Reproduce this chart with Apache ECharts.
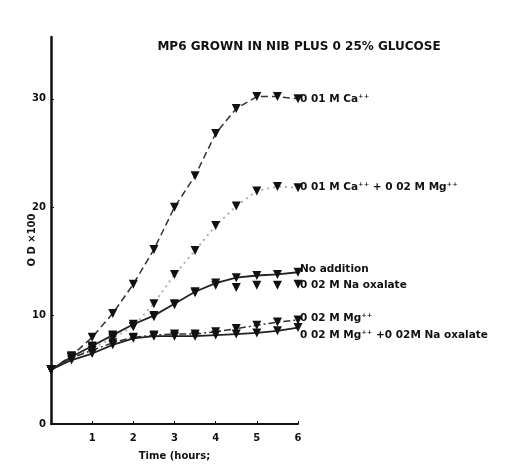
<!DOCTYPE html>
<html>
<head>
<meta charset="utf-8">
<script src="https://cdn.jsdelivr.net/npm/echarts@6/dist/echarts.min.js"></script>
<style>
  html, body { margin: 0; padding: 0; background: #fff; }
  #chart { width: 516px; height: 466px; }
</style>
</head>
<body>
<div id="chart"></div>
<script>
  // time (hours)
  var hours = [0, 0.5, 1, 1.5, 2, 2.5, 3, 3.5, 4, 4.5, 5, 5.5, 6]

  // O.D. x 100
  var ca = [5.0, 6.3, 8.0, 10.2, 12.9, 16.1, 20.0, 22.9, 26.8, 29.1, 30.2, 30.2, 30.0]
  var caMg = [5.0, 6.1, 7.0, 7.9, 9.0, 11.1, 13.8, 16.0, 18.3, 20.1, 21.5, 21.9, 21.8]
  var noAddition = [5.0, 6.2, 7.2, 8.2, 9.2, 10.0, 11.1, 12.2, 13.0, 13.5, 13.7, 13.8, 14.0]
  var oxalate = [5.0, 6.2, 7.1, 8.1, 9.0, 9.9, 11.0, 12.1, 12.8, 12.6, 12.8, 12.8, 12.9]
  var mg = [5.0, 6.1, 6.8, 7.5, 8.0, 8.2, 8.3, 8.3, 8.5, 8.8, 9.1, 9.4, 9.6]
  var mgOxalate = [5.0, 5.9, 6.5, 7.3, 7.9, 8.1, 8.1, 8.1, 8.2, 8.3, 8.4, 8.6, 8.9]

  var xTicks = [1, 2, 3, 4, 5, 6]
  var yTicks = [0, 10, 20, 30]

  var font = 'DejaVu Sans'

  function pairs(vals) {
    return hours.map(function (h, i) { return [h, vals[i]] })
  }

  // 一条曲线
  function curve(name, vals, line, label, offset) {
    return {
      name: name,
      type: 'line',
      data: pairs(vals),
      symbol: 'triangle',
      symbolRotate: 180,
      symbolSize: 9,
      itemStyle: { color: '#111' },
      lineStyle: line,
      silent: true,
      animation: false,
      endLabel: {
        show: true,
        formatter: label,
        color: '#111',
        fontFamily: font,
        fontWeight: 'bold',
        fontSize: 10.5,
        distance: 2,
        offset: offset || [0, 0]
      }
    }
  }

  var chart = echarts.init(document.getElementById('chart'))
  chart.setOption({
    animation: false,
    title: {
      text: 'MP6 GROWN IN NIB PLUS 0 25% GLUCOSE',
      left: 294,
      textAlign: 'center',
      top: 36,
      textStyle: { fontFamily: font, fontWeight: 'bold', fontSize: 12, color: '#111' }
    },
    graphic: [{
      type: 'text',
      x: 32,
      y: 240,
      rotation: Math.PI / 2,
      style: {
        text: 'O D ×100',
        fontFamily: font,
        fontWeight: 'bold',
        fontSize: 10,
        fill: '#111',
        align: 'center',
        verticalAlign: 'middle'
      }
    }],
    grid: { left: 51, right: 218, top: 37, bottom: 39 },
    xAxis: {
      type: 'value',
      min: 0,
      max: 6,
      interval: 1,
      name: 'Time (hours;',
      nameLocation: 'middle',
      nameGap: 27,
      nameTextStyle: { fontFamily: font, fontWeight: 'bold', fontSize: 10, color: '#111' },
      splitLine: { show: false },
      axisLine: { lineStyle: { color: '#111', width: 2 } },
      axisTick: { inside: true, length: 3, customValues: xTicks, lineStyle: { color: '#111' } },
      axisLabel: { customValues: xTicks, margin: 9, fontFamily: font, fontWeight: 'bold', fontSize: 10, color: '#111' }
    },
    yAxis: {
      type: 'value',
      min: 0,
      max: 35.7,
      interval: 10,
      splitLine: { show: false },
      axisLine: { lineStyle: { color: '#111', width: 2.5 } },
      axisTick: { inside: true, length: 3, customValues: yTicks, lineStyle: { color: '#111' } },
      axisLabel: { customValues: yTicks, margin: 5, fontFamily: font, fontWeight: 'bold', fontSize: 10, color: '#111' }
    },
    series: [
      curve('Ca', ca, { color: '#333', width: 1.5, type: [7, 4] }, '0 01 M Ca⁺⁺', [0, 0]),
      curve('CaMg', caMg, { color: '#aaa', width: 1.8, type: [2, 4] }, '0 01 M Ca⁺⁺ + 0 02 M Mg⁺⁺', [0, 0]),
      curve('none', noAddition, { color: '#222', width: 1.8 }, 'No addition', [0, -3]),
      curve('oxalate', oxalate, { color: '#bbb', width: 0.6, type: [1, 5], opacity: 0.6 }, '0 02 M Na oxalate', [0, 1]),
      curve('mg', mg, { color: '#333', width: 1.5, type: [7, 3, 2, 3] }, '0 02 M Mg⁺⁺', [0, -2]),
      curve('mgOx', mgOxalate, { color: '#222', width: 1.8 }, '0 02 M Mg⁺⁺ +0 02M Na oxalate', [0, 8])
    ]
  })
</script>
</body>
</html>
